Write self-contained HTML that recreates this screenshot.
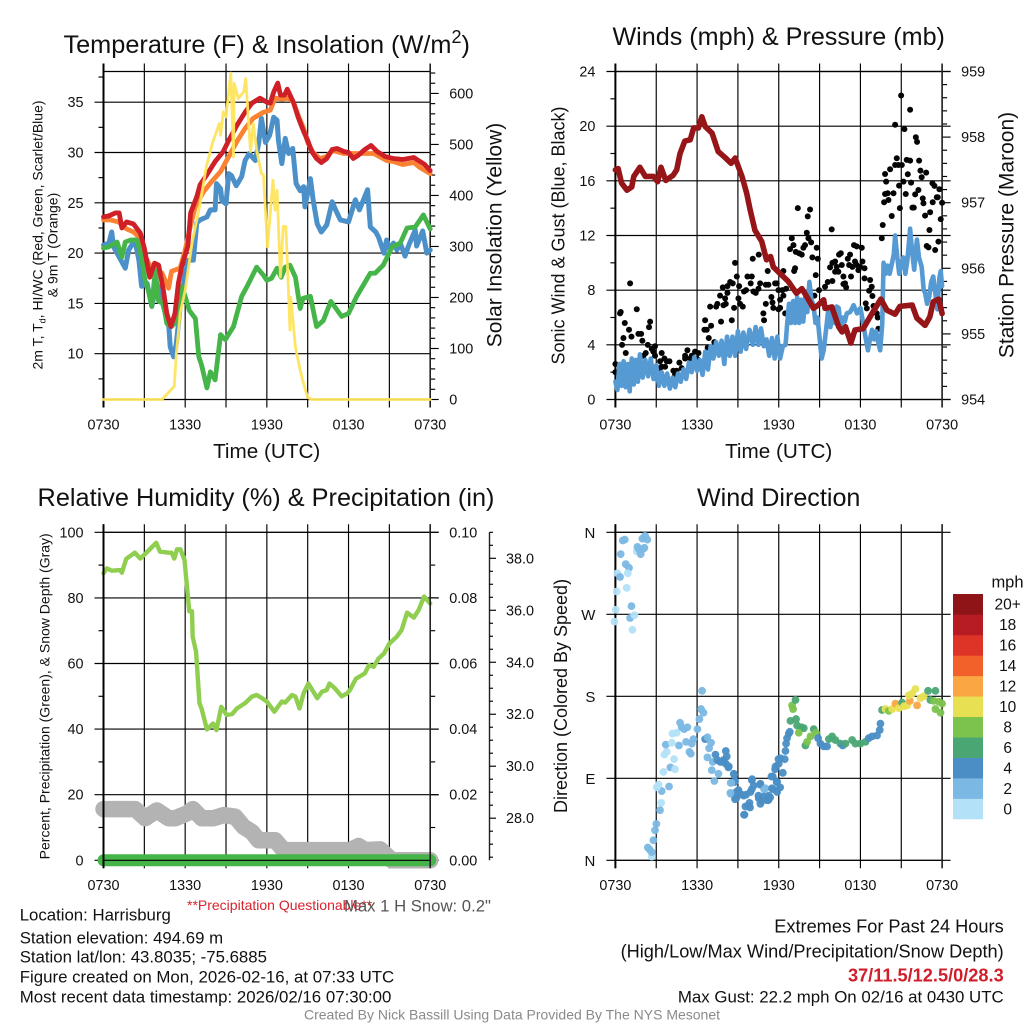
<!DOCTYPE html>
<html lang="en">
<head>
<meta charset="utf-8">
<title>Harrisburg Station Meteogram</title>
<style>
html,body{margin:0;padding:0;background:#fff;}
svg{display:block;font-family:"Liberation Sans",Arial,sans-serif;filter:blur(0.3px);}
text{fill:#111;}
</style>
</head>
<body>
<svg id="chart" xmlns="http://www.w3.org/2000/svg" width="1024" height="1024" viewBox="0 0 1024 1024">
<rect x="0" y="0" width="1024" height="1024" fill="#fff"/>
<g id="panel-temp"></g>
<g id="panel-wind"></g>
<g id="panel-rh"></g>
<g id="panel-dir"></g>
<g id="colorbar"></g>

<text x="266.7" y="53" font-size="25.3" text-anchor="middle">Temperature (F) &amp; Insolation (W/m<tspan font-size="18" dy="-10">2</tspan><tspan dy="10">)</tspan></text>
<text x="778.7" y="45" font-size="25.15" text-anchor="middle">Winds (mph) &amp; Pressure (mb)</text>
<text x="266" y="506" font-size="25.3" text-anchor="middle">Relative Humidity (%) &amp; Precipitation (in)</text>
<text x="778.7" y="506" font-size="25.15" text-anchor="middle">Wind Direction</text>

<text x="266.7" y="458" font-size="20.7" text-anchor="middle">Time (UTC)</text>
<text x="778.7" y="458" font-size="20.7" text-anchor="middle">Time (UTC)</text>

<text transform="translate(42.7,235) rotate(-90)" font-size="14" text-anchor="middle">2m T, T<tspan font-size="9" dy="3">d</tspan><tspan dy="-3">, HI/WC (Red, Green, Scarlet/Blue)</tspan></text>
<text transform="translate(57.7,245) rotate(-90)" font-size="14" text-anchor="middle">&amp; 9m T (Orange)</text>
<text transform="translate(501.7,235) rotate(-90)" font-size="21" text-anchor="middle">Solar Insolation (Yellow)</text>
<text transform="translate(564.7,235.5) rotate(-90)" font-size="18" text-anchor="middle">Sonic Wind &amp; Gust (Blue, Black)</text>
<text transform="translate(1013.7,235) rotate(-90)" font-size="21" text-anchor="middle">Station Pressure (Maroon)</text>
<text transform="translate(49.3,696.3) rotate(-90)" font-size="14" text-anchor="middle">Percent, Precipitation (Green), &amp; Snow Depth (Gray)</text>
<text transform="translate(567,696) rotate(-90)" font-size="18" text-anchor="middle">Direction (Colored By Speed)</text>

<text x="187" y="910" font-size="14" style="fill:#d9232e">**Precipitation Questionable**</text>
<text x="344" y="911.7" font-size="16.7" style="fill:#555">Max 1 H Snow: 0.2"</text>

<text x="19.7" y="920.7" font-size="16.8">Location: Harrisburg</text>
<text x="19.7" y="943.3" font-size="16.8">Station elevation: 494.69 m</text>
<text x="19.7" y="962.7" font-size="16.8">Station lat/lon: 43.8035; -75.6885</text>
<text x="19.7" y="982.7" font-size="16.85">Figure created on Mon, 2026-02-16, at 07:33 UTC</text>
<text x="19.7" y="1002.7" font-size="16.85">Most recent data timestamp: 2026/02/16 07:30:00</text>

<text x="1003.7" y="932.7" font-size="18.2" text-anchor="end">Extremes For Past 24 Hours</text>
<text x="1003.7" y="957.3" font-size="18.2" text-anchor="end">(High/Low/Max Wind/Precipitation/Snow Depth)</text>
<text x="1003.7" y="981.7" font-size="18.2" font-weight="bold" text-anchor="end" style="fill:#cf1f2a">37/11.5/12.5/0/28.3</text>
<text x="1003.7" y="1002.7" font-size="16.85" text-anchor="end">Max Gust: 22.2 mph On 02/16 at 0430 UTC</text>
<text x="512" y="1019.3" font-size="14" text-anchor="middle" style="fill:#8a8a8a">Created By Nick Bassill Using Data Provided By The NYS Mesonet</text>
</svg>

<script>
// ---------- shared axis data ----------
const timeTicks = [0, 3, 6, 9, 12, 15, 18, 21, 24];
const timeLabels = { 0: '0730', 6: '1330', 12: '1930', 18: '0130', 24: '0730' };

// ---------- temperature panel data ----------
const tempDomain = [5.45, 38.05];
const tempTicks = [10, 15, 20, 25, 30, 35];
const tempMinorTicks = [7.5, 12.5, 17.5, 22.5, 27.5, 32.5, 37.5];
const solarDomain = [0, 643];
const solarTicks = [0, 100, 200, 300, 400, 500, 600];
const solarMinorTicks = [20,40,60,80,120,140,160,180,220,240,260,280,320,340,360,380,420,440,460,480,520,540,560,580,620,640];

const redTimes = [0,.4,.9,1.15,1.35,1.7,2.2,2.7,3,3.2,3.4,3.75,4.05,4.4,4.65,4.95,5.25,5.5,5.75,6.2,6.4,6.85,7.1,7.6,8.2,8.8,9.2,9.8,10.4,10.9,11.5,12,12.25,12.5,12.8,13,13.3,13.5,13.95,14.3,14.7,15,15.3,15.65,16,16.4,16.8,17.15,17.65,18,18.35,18.7,19.2,19.65,20.1,20.7,21.3,22,22.8,23.25,23.6,24];
const redValues = [23.6,23.7,24,24,22.5,23.1,22.9,22,20.5,19,17.6,19,18.8,16.3,14,12.7,14,17,18.7,20.7,24,25.6,26.8,27.8,29.1,30.1,31.2,32.7,34,34.9,35.4,35,34.9,36,36.9,35.7,35.7,36.3,35,33.5,32.1,31.2,30.1,29.4,29,29.4,30.3,30.4,30.1,30,29.4,29.7,30.3,30.7,30.1,29.6,29.4,29.3,29.5,29.1,28.8,28.2];

const orangeTimes = [0,.5,1.1,1.7,2.2,2.7,3.06,3.43,3.8,4.3,4.78,5,5.63,6,6.37,6.74,7.35,8,8.6,9.2,9.8,10.4,11,11.75,12.25,12.6,13.1,13.6,13.95,14.3,14.7,15,15.4,15.9,16.4,16.8,17.65,19.85,20.8,21.3,22,22.8,23.25,24];
const orangeValues = [23.3,23.3,23.1,22.4,22.1,21.5,19.7,18.7,18.5,18,16.5,18.2,18.5,20.3,22.6,24.6,26.1,27.2,28.1,29.6,31.1,32.4,33.4,34,34.2,35.4,35.3,35.4,35,33.7,32.4,31,30,29.4,29.6,30.2,29.9,29.9,29.2,29.1,28.8,29,28.5,27.9];

const blueTimes = [0,.4,.6,.75,1.6,1.85,2.3,2.6,2.8,3.2,3.55,3.9,4.05,4.8,4.9,5.15,5.35,5.63,6,6.25,6.6,6.85,7.1,7.6,7.85,8.2,8.3,8.6,8.7,9,9.2,9.4,9.75,10.15,10.4,10.7,11.15,11.4,11.6,11.9,12.2,12.5,12.75,12.85,13.1,13.35,13.6,13.9,14.15,14.45,14.7,14.8,15.2,15.4,15.7,16,16.4,16.8,17.05,17.4,18,18.5,18.8,19.4,19.6,20,20.2,20.6,20.8,21.05,21.3,21.55,21.8,22.15,22.4,22.9,23,23.45,23.75,24];
const blueValues = [20.8,21,22.1,20.6,18.5,20.3,21.3,19.3,16.7,17,14.7,17,16.5,12.7,10.7,9.7,11,14.7,18,19.3,19.3,23,23.3,23.6,24.3,24.3,26.9,26.4,25.2,24.9,27.9,27.7,26.7,27.6,29.2,29.9,29.2,30.9,33.4,31,31.7,33.5,33.2,31.2,28.9,31.4,29.9,30.4,26.9,26.2,26.6,24.6,27.4,25.3,22.9,22.1,22.8,25.1,24.3,23.3,23.1,25.3,24.3,26.3,22.6,22.1,21.6,20,21.3,20.3,21,20.3,21,19.7,20.7,22.3,20.7,22.2,20,20.3];

const greenTimes = [0,.35,1,1.35,1.6,2,2.45,2.8,3.05,3.3,3.55,3.8,4.05,4.4,4.65,5,5.4,5.75,6,6.3,6.75,7,7.2,7.6,7.85,8.2,8.6,8.95,9.55,10.15,10.55,11.25,11.75,12,12.35,12.75,13.05,13.35,13.7,14.1,14.45,14.65,15.2,15.65,16.15,16.7,17.5,18,18.6,19.6,19.95,20.55,21.2,21.8,22.3,22.9,23.5,24];
const greenValues = [20.5,20.6,21.1,19.6,21.1,21.3,21.3,19.6,17.3,16.3,14.7,18.3,15.2,15,13,12.7,13.3,16.7,15.7,14.3,13.5,9.7,8.9,6.6,8.2,7.4,11.9,11.4,12.7,15.7,16.7,18.6,17.8,17.3,17.5,18.5,17.6,18.6,18.8,17.6,14.5,15.5,15.7,12.7,13.3,15.2,13.7,14,15.7,18,18,18.8,20.6,21,22.5,22.6,23.8,22.4];

const solarTimes = [0,4.3,5.2,5.35,5.63,6,6.5,7.1,7.55,8,8.5,8.6,8.8,9,9.35,9.55,9.6,9.9,10.3,10.45,10.8,11,11.25,11.6,11.75,12.05,12.45,12.6,12.75,13,13.2,13.4,13.7,13.75,14.1,14.45,14.7,15,15.3,24];
const solarValues = [0,0,26,90,169,214,306,384,456,502,541,518,564,554,640,476,620,590,603,629,486,541,489,443,440,299,430,371,410,240,339,339,136,201,103,57,31,4,0,0];

// ---------- wind panel data ----------
const windDomain = [0, 24];
const windTicks = [0, 4, 8, 12, 16, 20, 24];
const windMinorTicks = [2, 6, 10, 14, 18, 22];
const pressureDomain = [954, 959];
const pressureTicks = [954, 955, 956, 957, 958, 959];
const pressureMinorTicks = [954.2,954.4,954.6,954.8,955.2,955.4,955.6,955.8,956.2,956.4,956.6,956.8,957.2,957.4,957.6,957.8,958.2,958.4,958.6,958.8];

const sonicTimes = [0,.15,.3,.45,.6,.75,.9,1.05,1.2,1.35,1.5,1.65,1.8,2,2.2,2.4,2.6,2.8,3,3.2,3.4,3.6,3.8,4,4.2,4.4,4.6,4.8,5,5.2,5.4,5.6,5.8,6,6.2,6.4,6.6,6.8,7,7.2,7.4,7.6,7.8,8,8.2,8.4,8.6,8.8,9,9.2,9.4,9.6,9.85,10.1,10.3,10.5,10.7,10.9,11.1,11.3,11.5,11.7,11.9,12.1,12.3,12.5,
12.6,12.75,12.9,13.05,13.2,13.35,13.5,13.65,13.8,13.95,14.1,14.25,14.4,14.55,14.7,14.85,15,15.15,15.3,15.5,15.65,15.8,15.95,16.1,16.25,16.4,16.55,16.7,16.85,17,17.25,17.5,17.75,18,18.2,18.4,18.55,18.7,18.85,19,19.15,19.3,19.45,19.6,19.7,19.85,20,20.15,20.3,20.45,20.55,20.7,20.85,21,21.15,21.3,21.45,21.65,21.8,21.95,22.15,22.3,22.5,22.65,22.75,22.9,23.05,23.2,23.35,23.5,23.65,23.8,23.9,24];
const sonicValues = [1.3,.7,2.6,1,2.8,.9,2.6,.6,3,1.1,2.9,1.3,3.3,1.6,2.9,1.7,3,1.5,2.5,1,2,1,1.9,.8,1.6,.9,1.9,1.3,2.2,1.5,2.7,2,3.1,2.1,2.9,1.8,3.5,2.2,3.9,3,4.2,3.2,4.3,2.6,4.6,3.2,4.6,3.2,5,3.5,4.9,3.7,5.1,4,5.3,4,5.2,3.9,4.4,3.2,4.5,3,4.6,3,3.9,4,
5.3,7,5.6,7.2,5.6,7.5,5.6,7.3,5.7,7.5,6.4,8.6,7.3,6.9,5.6,6,4.5,3,3.6,5.3,6.7,5.3,6.4,5.6,6.8,6.7,5.3,6,5.7,6.3,6.4,6.9,6.3,6.7,5.6,4.4,3.6,4.4,5.1,4.4,5,4.2,3.6,5.5,10,9.2,9.8,9.2,9.9,10.6,12,10.5,9.2,10,10.4,9.2,10.2,12.5,10.8,9.5,11.7,10.4,9.7,8,7.8,7,7.5,8.6,9,7.8,6.6,8.9,9.4,8.3];

const gustTimes = [0,0,.34,.39,1.08,1.57,.69,.59,.49,.76,1,1.18,1.69,1.89,1.98,2.55,2.47,2.38,2.06,2.23,2.67,2.91,2.79,2.91,3.28,3.4,3.6,3.28,3.77,3.97,3.65,3.4,4.26,4.38,4.7,4.5,4.87,5.12,5.29,5.12,5.49,5.61,5.85,5.98,6.1,6.22,5.93,6.59,6.71,6.54,7.03,6.86,6.78,7.27,7.76,6.96,7.49,7.4,7.69,8.06,8.23,7.89,8.23,8.11,7.94,8.43,8.79,8.92,8.62,9.09,9.04,9.16,8.72,9.36,8.55,9.45,9.6,9.7,10.02,9.94,10.63,10.31,10.14,10.51,10.09,10.53,11.19,11.24,11.05,11.73,11.98,11.85,11.46,11.54,11.05,10.87,10.92,11.6,11.98,
12.34,12.1,12.34,12.54,12.1,12.47,12.27,12.83,12.96,13.08,13.2,13.13,13.25,13.49,13.69,13.81,13.93,14.06,14.18,14.38,14.79,14.47,14.87,14.72,14.96,14.62,13.4,14.3,14.13,15.89,15.4,15.6,15.94,15.77,15.94,16.14,16.26,16.38,16.14,16.63,16.43,16.56,16.75,16.87,16.75,16.95,17.07,17.24,17.17,17.41,17.53,17.73,18.1,17.6,17.73,17.31,17.98,18.15,17.85,18.3,18.3,18.71,18.83,18.64,18.88,18.39,18.47,18.96,19.2,19.27,19.32,
19.57,19.64,19.74,19.81,19.89,20,20.06,19.81,20.3,20.18,20.43,20.55,20.67,20.79,21.04,20.84,21.16,20.9,21.33,20.99,20.55,21.23,21.65,21.4,21.65,21.48,21.72,22.02,22.26,21.82,21.92,22.07,22.16,22.31,22.41,22.5,22.83,22.58,22.63,22.75,23.12,23.29,23.44,23.31,23.61,23.68,23.8,24,23.07,22.87,23,23.49,23.73,23.9];
const gustValues = [2.6,2,6.3,6.4,8.5,6.6,5.6,4.5,4,3.4,5.1,4.6,4.8,4.8,4.3,5.7,5.3,4,3.2,3.4,3.7,3.9,3.5,3.2,2.8,3.4,3,2.3,2.8,2.8,2.4,2.4,2.1,1.8,2.7,2.1,2.3,3,3.6,3.2,3,3.2,3.5,3,3.4,2.6,2.9,5.8,5.1,5.1,5.4,4.5,3.8,4.2,5.7,6.8,7,6.8,7.6,7.4,7.8,8.2,8.3,7,6.9,8.6,10,9,8.5,8.3,7.4,7,6.7,6.8,5.8,7.9,8,9,9,8.5,8.5,7.8,7.9,8.1,10.3,10.6,9.4,8.4,8.4,8.5,8,8.5,7.5,7.1,7,6.3,5.8,6.7,6.6,
9.4,7.3,7.6,8.1,6.7,6.3,8,11,11.8,11.3,9.6,9.4,10.8,10.7,10.6,11.1,11.3,12.2,11.8,11.5,11.1,10.4,10.3,9.1,8,7.6,14,13.9,13.4,12.45,8.25,8.6,8.67,9.67,10,10.1,9.7,9.35,9.35,9.84,10.6,10.7,9,8.5,8.45,8.2,10.3,10.6,9.84,9.7,11.3,11.2,11.1,10.1,9.84,9,9.7,10.1,9.47,9.6,8.86,8.74,8.25,7.96,7.57,7.03,6.67,6.84,6.3,6,5.18,
11.8,12.77,14.43,16.5,15.94,15.09,14.6,15.04,13.43,16.85,15.09,17.16,17.65,17.16,17.16,15.65,15.94,14,15.04,22.24,20.1,19.78,21.2,17.53,17.48,16.48,15.87,15.01,15.33,14.04,14.04,19.19,18.85,17.48,16.75,16.26,16.6,14.72,14.36,13.45,13.7,15.82,15.63,14.43,14.8,14.8,15.38,14.4,12.4,11.23,11.13,10.94,11.55,13.2];

const pressureTimes = [0,.2,.45,.85,1.2,1.35,1.8,2.2,2.8,3.1,3.35,3.7,4.25,4.5,4.75,5.1,5.5,5.75,6.1,6.35,6.6,7.1,7.55,8.05,8.5,8.8,9.3,9.65,9.9,10.25,10.75,11.1,11.4,11.6,12.1,12.7,13.3,13.7,14.05,14.55,14.9,15.3,15.4,15.9,16.4,16.65,16.9,17.3,17.6,18.2,18.85,19.5,19.95,20.55,20.9,21.8,22.15,22.75,23.1,23.35,23.75,24];
const pressureValues = [957.5,957.52,957.3,957.19,957.24,957.4,957.54,957.4,957.4,957.32,957.54,957.34,957.42,957.5,957.75,957.94,957.96,958.14,958.14,958.31,958.16,958.06,957.78,957.69,957.6,957.68,957.4,957.14,956.89,956.58,956.41,956.13,956.18,956.02,955.92,955.8,955.62,955.69,955.57,955.39,955.44,955.52,955.39,955.41,955.11,955.03,955.11,954.86,955.06,955.08,955.31,955.53,955.36,955.3,955.42,955.44,955.24,955.13,955.26,955.49,955.53,955.31];

// ---------- humidity panel data ----------
const rhDomain = [0, 100];
const rhTicks = [0, 20, 40, 60, 80, 100];
const rhMinorTicks = [10, 30, 50, 70, 90];
const precipDomain = [0, 0.1];
const precipTicks = [0, .02, .04, .06, .08, .1];
const precipMinorTicks = [.01, .03, .05, .07, .09];
const snowDomain = [26.38, 39];
const snowTicks = [28, 30, 32, 34, 36, 38];
const snowMinorTicks = [26.5,27,27.5,28.5,29,29.5,30.5,31,31.5,32.5,33,33.5,34.5,35,35.5,36.5,37,37.5,38.5,39];

const rhTimes = [0,.25,.6,1.2,1.35,1.67,2.3,2.7,3.3,3.87,4.15,4.8,5,5.2,5.4,5.65,5.95,6.2,6.3,6.5,6.55,6.8,7.05,7.2,7.6,8.05,8.3,8.65,9.05,9.45,9.8,10.4,10.9,11.25,11.65,12,12.55,13.1,13.35,13.85,14.1,14.4,14.7,15.05,15.7,16.05,16.4,16.6,17,17.5,17.9,18.1,18.55,19.2,19.5,19.85,20.2,20.6,21,21.55,21.9,22.3,22.8,23.15,23.55,24];
const rhValues = [87.5,89,88.3,88.5,87.7,91.9,93.8,92,94.4,96.8,94.1,93.8,93.8,92,94.8,94.8,91.6,80.4,75.9,75.9,68.2,63.6,47.9,46.3,39.9,41.7,39.7,46.8,44.3,44.6,46.3,47.9,49.9,50.4,49.4,48.4,45.3,48.4,48.1,50.4,49.9,46.3,50.9,53.9,49.4,51.4,51.9,53.9,52.4,50,50.9,51.9,55.4,57,59.5,59,61.5,63,66.1,68.2,70.2,75.5,74,76.3,80.4,78.3];

const snowTimes = [0,2.33,3.06,3.92,4.78,5.27,6.12,6.56,7.22,8.08,8.82,9.67,10.29,10.9,11.39,12.61,13.23,18.12,18.74,19.22,20.33,21.19,24];
const snowValues = [28.35,28.35,28,28.3,28,28,28.18,28.35,28,28,28.12,28.06,27.67,27.47,27.15,27.15,26.77,26.77,26.93,26.77,26.8,26.38,26.38];

const precipTimes = [0, 24];
const precipValues = [0, 0];

// ---------- wind direction panel data ----------
const dirLabels = ['N', 'E', 'S', 'W', 'N'];
const dirTicks = [0, 90, 180, 270, 360];
const dirTimes = [-.07,.02,.1,.15,.34,.39,.54,.69,.76,1,.91,.83,1.18,1.08,1.4,1.25,1.57,1.62,1.74,1.86,2.06,2.13,1.98,2.18,2.35,
2.67,2.67,2.5,2.38,2.79,2.91,3.01,3.28,3.36,3.4,3.18,3.04,3.94,3.53,4.04,4.38,4.31,3.77,3.6,4.67,3.7,4.14,4.19,4.5,4.75,4.87,5.05,5.29,5.19,5.44,5.54,5.61,5.73,6.03,6.17,6.29,6.47,6.37,6.59,6.76,7.03,6.88,6.76,7.15,7.08,7.57,7.27,8.47,8.47,
7.35,7.49,7.81,8.11,8.18,7.94,8.11,8.3,8.72,8.79,9.04,8.87,8.79,9.28,9.6,9.45,9.89,9.77,10.02,10.02,10.63,10.51,10.75,10.92,11.24,11.37,11.6,11.56,11.85,11.73,11.98,12.1,
7.96,7.7,8.33,8.7,8.77,8.52,8.45,8.87,9.06,9.43,9.92,10.04,10.16,10.53,10.65,10.9,11.14,10.65,9.55,9.85,9.48,11.02,11.27,
11.76,12,12.12,12.44,12.3,11.88,11.88,11.46,11.5,12.49,12.54,12.61,12.74,12.81,
12.86,13.27,12.98,13.05,13.23,13.35,13.67,13.84,13.47,13.96,14.08,14.33,14.57,14.74,14.89,15.06,15.31,15.55,15.68,15.92,16.16,16.53,16.7,16.9,17.39,17.63,18,18.37,18.61,18.86,19.22,19.42,19.47,
19.59,19.84,20.08,20.33,20.57,20.82,21.06,21.19,21.43,21.63,21.55,21.8,22.04,22.16,22.41,22.65,22.97,23.51,23.14,23.39,23.76,24,23.51,23.88];
const dirValues = [262,275,295,315,311,336,351,352,325,321,315,299,279,266,269,253,339,344,341,336,342,343,353,356,352,
4,9,12,14,22,33,40,55,63,76,83,80,81,97,102,100,111,119,116,126,127,129,139,140,151,146,144,146,130,119,117,128,133,144,155,166,162,186,133,135,129,123,113,108,99,95,87,85,73,
116,110,108,120,114,110,106,102,94,87,77,75,67,72,72,50,58,60,88,78,83,71,65,78,66,69,78,92,86,100,111,80,
108,108,103,95,86,85,74,68,75,71,75,89,82,68,62,70,66,84,59,63,50,79,71,
103,106,112,111,96,86,75,92,79,120,128,134,139,141,
153,155,170,166,176,148,146,145,140,126,130,136,144,140,134,128,125,125,133,136,132,128,126,128,132,128,128,130,134,136,137,143,150,
165,166,164,166,172,167,173,169,170,175,181,183,188,170,178,180,186,186,176,175,174,172,166,162];
const dirSpeeds = [1,1,1,1,3,3,3,3,3,3,1,1,3,3,1,1,1,3,3,3,3,3,3,3,3,
1,3,3,3,3,3,3,3,1,3,1,1,3,1,3,1,1,1,1,3,3,1,1,1,3,3,3,3,3,3,3,3,3,3,3,3,3,3,5,3,3,3,3,3,3,3,3,3,3,
5,5,5,5,5,5,5,5,5,5,5,5,5,5,5,5,5,5,5,5,5,5,5,3,5,5,5,5,5,5,5,5,
5,5,5,5,5,3,3,5,5,5,5,5,5,5,5,5,5,5,5,5,5,3,5,
5,5,5,5,5,5,5,5,5,5,5,5,5,5,
7,7,9,9,7,7,7,7,9,7,9,9,7,9,5,5,5,5,7,7,7,7,5,7,7,7,7,7,5,5,5,5,5,
7,11,9,11,13,11,7,11,11,13,11,11,11,13,11,11,7,7,7,9,9,9,9,9];

// ---------- colorbar data ----------
const speedLabels = ['0', '2', '4', '6', '8', '10', '12', '14', '16', '18', '20+'];
const speedColors = ['#b3e2f8', '#7bb8e3', '#4a8ec5', '#4aa774', '#7bc34d', '#e8e053', '#faa743', '#f2612a', '#de3327', '#b71c22', '#8f1418'];

// ---------- helpers ----------
const NS = 'http://www.w3.org/2000/svg';
function scaler(domain, r0, r1) {
  return function (v) { return r0 + (v - domain[0]) / (domain[1] - domain[0]) * (r1 - r0); };
}
function line(parent, name, x1, y1, x2, y2, color, width) {
  const el = document.createElementNS(NS, 'line');
  
  
  el.setAttribute('x1', x1);
  el.setAttribute('y1', y1);
  el.setAttribute('x2', x2);
  el.setAttribute('y2', y2);
  el.setAttribute('stroke', color || '#000');
  el.setAttribute('stroke-width', width || 1.15);
  parent.appendChild(el);
  return el;
}
function label(parent, name, x, y, str, anchor, size) {
  const el = document.createElementNS(NS, 'text');
  
  
  el.setAttribute('x', x);
  el.setAttribute('y', y);
  el.setAttribute('font-size', size || 14.4);
  el.setAttribute('text-anchor', anchor || 'middle');
  el.textContent = str;
  parent.appendChild(el);
  return el;
}
function series(parent, name, xf, yf, times, values, color, width, opacity) {
  const n = Math.min(times.length, values.length);
  let d = '';
  for (let i = 0; i < n; i++) {
    d += (i ? 'L' : 'M') + xf(times[i]).toFixed(2) + ' ' + yf(values[i]).toFixed(2);
  }
  const el = document.createElementNS(NS, 'path');
  
  
  el.setAttribute('d', d);
  el.setAttribute('fill', 'none');
  el.setAttribute('stroke', color);
  el.setAttribute('stroke-width', width);
  el.setAttribute('stroke-linejoin', 'round');
  el.setAttribute('stroke-linecap', 'round');
  if (opacity) el.setAttribute('stroke-opacity', opacity);
  parent.appendChild(el);
  return el;
}
function dot(parent, name, cx, cy, r, color, opacity) {
  const el = document.createElementNS(NS, 'circle');
  
  
  el.setAttribute('cx', cx);
  el.setAttribute('cy', cy);
  el.setAttribute('r', r);
  el.setAttribute('fill', color);
  if (opacity) el.setAttribute('fill-opacity', opacity);
  parent.appendChild(el);
  return el;
}
function timeAxis(g, xf, top, bottom, labelY) {
  timeTicks.forEach(function (t) {
    line(g, 'time-gridline', xf(t), top - 8, xf(t), bottom + 8);
    if (timeLabels[t]) label(g, 'time-tick-label', xf(t), labelY, timeLabels[t]);
  });
}
function leftAxis(g, yf, x0, x1, ticks, minor, fmt, gridRight) {
  ticks.forEach(function (v) {
    line(g, 'left-gridline', x0 - 9, yf(v), x1 + gridRight, yf(v));
    label(g, 'left-tick-label', x0 - 20, yf(v) + 5, fmt(v), 'end');
  });
  minor.forEach(function (v) {
    line(g, 'left-minor-tick', x0 - 5, yf(v), x0, yf(v));
  });
}
function rightAxis(g, yf, x1, ticks, minor, fmt) {
  ticks.forEach(function (v) {
    line(g, 'right-tick', x1, yf(v), x1 + 8.5, yf(v));
    label(g, 'right-tick-label', x1 + 19, yf(v) + 5, fmt(v), 'start');
  });
  minor.forEach(function (v) {
    line(g, 'right-minor-tick', x1, yf(v), x1 + 5, yf(v));
  });
}
function frame(g, x0, x1, top, bottom) {
  line(g, 'plot-top-border', x0, top, x1, top);
  line(g, 'plot-bottom-border', x0, bottom, x1, bottom);
  line(g, 'plot-left-border', x0, top - 8, x0, bottom + 8, '#000', 2);
  line(g, 'plot-right-border', x1, top - 8, x1, bottom + 8, '#222', 1.6);
}
const str = function (v) { return String(v); };

// ---------- temperature panel ----------
(function () {
  const g = document.getElementById('panel-temp');
  const x0 = 103.5, x1 = 430.2, top = 71.5, bottom = 399.5;
  const xf = scaler([0, 24], x0, x1);
  const yT = scaler(tempDomain, bottom, top);
  const yS = scaler(solarDomain, bottom, top);
  timeAxis(g, xf, top, bottom, 429.3);
  leftAxis(g, yT, x0, x1, tempTicks, tempMinorTicks, str, 0);
  rightAxis(g, yS, x1, solarTicks, solarMinorTicks, str);
  frame(g, x0, x1, top, bottom);
  series(g, 'wind-chill-line', xf, yT, blueTimes, blueValues, '#4b90c9', 5);
  series(g, 'temp-9m-line', xf, yT, orangeTimes, orangeValues, '#f98332', 4.8);
  series(g, 'dew-point-line', xf, yT, greenTimes, greenValues, '#45b54a', 4.8);
  series(g, 'temp-2m-line', xf, yT, redTimes, redValues, '#cf1f27', 4.8);
  series(g, 'solar-insolation-line', xf, yS, solarTimes, solarValues, '#fee45c', 2.8, 0.95);
})();

// ---------- wind panel ----------
(function () {
  const g = document.getElementById('panel-wind');
  const x0 = 615.4, x1 = 942.1, top = 71.5, bottom = 399.5;
  const xf = scaler([0, 24], x0, x1);
  const yW = scaler(windDomain, bottom, top);
  const yP = scaler(pressureDomain, bottom, top);
  timeAxis(g, xf, top, bottom, 429.3);
  leftAxis(g, yW, x0, x1, windTicks, windMinorTicks, str, 8.5);
  rightAxis(g, yP, x1, pressureTicks, pressureMinorTicks, str);
  frame(g, x0, x1, top, bottom);
  const n = Math.min(gustTimes.length, gustValues.length);
  for (let i = 0; i < n; i++) {
    const gust = dot(g, 'gust-point', xf(gustTimes[i]), yW(gustValues[i]), 3, '#050505');
    gust.setAttribute('data-value', gustValues[i]);
  }
  series(g, 'sonic-wind-line', xf, yW, sonicTimes, sonicValues, '#569ad4', 4.6);
  series(g, 'station-pressure-line', xf, yP, pressureTimes, pressureValues, '#961518', 5.6);
})();

// ---------- humidity panel ----------
(function () {
  const g = document.getElementById('panel-rh');
  const x0 = 103.5, x1 = 430.2, top = 532.3, bottom = 860.3;
  const xf = scaler([0, 24], x0, x1);
  const yR = scaler(rhDomain, bottom, top);
  const yP = scaler(precipDomain, bottom, top);
  const yS = scaler(snowDomain, bottom, top);
  timeAxis(g, xf, top, bottom, 890);
  leftAxis(g, yR, x0, x1, rhTicks, rhMinorTicks, str, 8.5);
  rightAxis(g, yP, x1, precipTicks, precipMinorTicks, function (v) { return v.toFixed(2); });
  series(g, 'relative-humidity-line', xf, yR, rhTimes, rhValues, '#8fce4f', 4.4);
  series(g, 'snow-depth-line', xf, yS, snowTimes, snowValues, '#b3b3b3', 16.5);
  series(g, 'precipitation-line', xf, yP, precipTimes, precipValues, '#45b549', 12);
  frame(g, x0, x1, top, bottom);
  const ax = 489.5;
  line(g, 'snow-axis-line', ax, top, ax, bottom, '#222', 1.4);
  snowTicks.forEach(function (v) {
    line(g, 'snow-axis-tick', ax, yS(v), ax + 6.5, yS(v));
    label(g, 'snow-axis-label', ax + 16.5, yS(v) + 5, v.toFixed(1), 'start');
  });
  snowMinorTicks.forEach(function (v) {
    line(g, 'snow-axis-minor-tick', ax, yS(v), ax + 3.5, yS(v));
  });
})();

// ---------- wind direction panel ----------
(function () {
  const g = document.getElementById('panel-dir');
  const x0 = 615.4, x1 = 942.1, top = 532.3, bottom = 860.3;
  const xf = scaler([0, 24], x0, x1);
  const yD = scaler([0, 360], bottom, top);
  timeAxis(g, xf, top, bottom, 890);
  dirTicks.forEach(function (v, i) {
    line(g, 'direction-gridline', x0 - 9, yD(v), x1 + 8.5, yD(v));
    label(g, 'direction-tick-label', x0 - 20, yD(v) + 5.5, dirLabels[i], 'end', 15);
  });
  frame(g, x0, x1, top, bottom);
  const n = Math.min(dirTimes.length, dirValues.length, dirSpeeds.length);
  for (let i = 0; i < n; i++) {
    const bin = Math.min(speedColors.length - 1, Math.floor(dirSpeeds[i] / 2));
    dot(g, 'direction-point', xf(dirTimes[i]), yD(dirValues[i]), 3.9, speedColors[bin], 0.95);
  }
})();

// ---------- colorbar ----------
(function () {
  const g = document.getElementById('colorbar');
  const x = 953, w = 30, bottom = 819, h = 225 / speedColors.length;
  speedColors.forEach(function (c, i) {
    const el = document.createElementNS(NS, 'rect');
    
    
    el.setAttribute('x', x);
    el.setAttribute('y', bottom - (i + 1) * h);
    el.setAttribute('width', w);
    el.setAttribute('height', h + 0.3);
    el.setAttribute('fill', c);
    g.appendChild(el);
    label(g, 'colorbar-label', 1007.7, bottom - (i + 0.5) * h + 5.5, speedLabels[i], 'middle', 15.5);
  });
  label(g, 'colorbar-unit', 1007.5, 587.5, 'mph', 'middle', 16.5);
})();
</script>
</body>
</html>
